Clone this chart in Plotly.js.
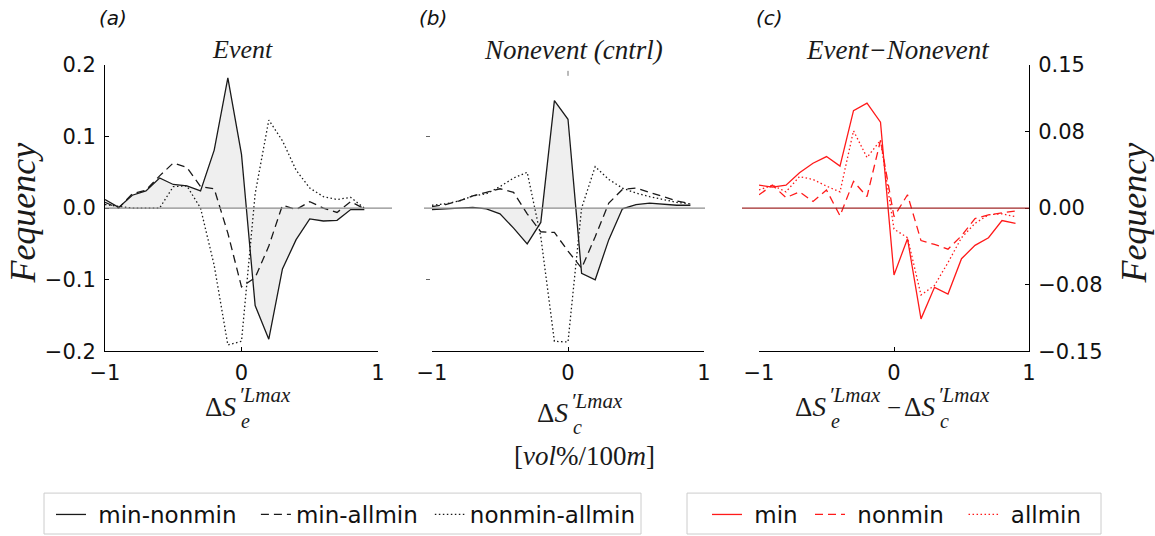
<!DOCTYPE html>
<html>
<head>
<meta charset="utf-8">
<script src="https://cdn.plot.ly/plotly-3.0.1.min.js"></script>
<style>html,body{margin:0;padding:0;background:#fff;}#chart{width:1155px;height:536px;}</style>
</head>
<body>
<div id="chart"></div>
<script>
// ---- data ----
const xBins = [-1.0, -0.9, -0.8, -0.7, -0.6, -0.5, -0.4, -0.3, -0.2, -0.1, 0.0, 0.1, 0.2, 0.3, 0.4, 0.5, 0.6, 0.7, 0.8, 0.9];

// (a) Event
const aMinNonmin    = [0.012, 0.001, 0.018, 0.024, 0.042, 0.033, 0.031, 0.024, 0.081, 0.182, 0.075, -0.136, -0.183, -0.085, -0.044, -0.015, -0.018, -0.017, -0.002, -0.002];
const aMinAllmin    = [0.008, 0.000, 0.020, 0.025, 0.045, 0.063, 0.057, 0.030, 0.027, -0.035, -0.110, -0.097, -0.053, 0.004, -0.002, 0.009, 0.000, -0.006, 0.009, -0.001];
const aNonminAllmin = [0.005, 0.002, 0.000, 0.000, 0.000, 0.030, 0.031, 0.000, -0.080, -0.191, -0.186, 0.020, 0.123, 0.094, 0.053, 0.028, 0.016, 0.012, 0.015, 0.000];

// (b) Nonevent (cntrl)
const bMinNonmin    = [-0.002, -0.001, 0.001, 0.001, -0.001, -0.008, -0.028, -0.050, -0.020, 0.150, 0.124, -0.091, -0.100, -0.044, -0.001, 0.005, 0.007, 0.005, 0.004, 0.004];
const bMinAllmin    = [0.002, 0.005, 0.010, 0.017, 0.022, 0.027, 0.022, -0.008, -0.033, -0.034, -0.060, -0.084, -0.040, 0.007, 0.026, 0.028, 0.022, 0.016, 0.010, 0.006];
const bNonminAllmin = [0.004, 0.006, 0.010, 0.017, 0.020, 0.030, 0.042, 0.050, -0.040, -0.186, -0.187, 0.000, 0.058, 0.040, 0.028, 0.021, 0.016, 0.012, 0.008, 0.006];

// (c) Event - Nonevent
const cMin    = [0.024, 0.022, 0.024, 0.037, 0.047, 0.054, 0.044, 0.102, 0.110, 0.090, -0.070, -0.032, -0.116, -0.083, -0.090, -0.053, -0.039, -0.031, -0.013, -0.016];
const cNonmin = [0.014, 0.024, 0.011, 0.017, 0.007, 0.019, -0.008, 0.028, 0.012, 0.071, -0.009, 0.014, -0.034, -0.038, -0.043, -0.029, -0.011, -0.007, -0.005, -0.003];
const cAllmin = [0.019, 0.024, 0.017, 0.033, 0.030, 0.023, 0.017, 0.081, 0.053, 0.071, -0.022, -0.031, -0.091, -0.081, -0.057, -0.031, -0.016, -0.007, -0.006, -0.009];

const xTickVals = [-1, 0, 1];
const xTickText = ['\u22121', '0', '1'];
const yTickValsAB = [-0.2, -0.1, 0, 0.1, 0.2];
const yTickTextAB = ['\u22120.2', '\u22120.1', '0.0', '0.1', '0.2'];
const yTickValsC = [-0.15, -0.08, 0, 0.08, 0.15];
const yTickTextC = ['\u22120.15', '\u22120.08', '0.00', '0.08', '0.15'];

const legendA = ['min-nonmin', 'min-allmin', 'nonmin-allmin'];
const legendC = ['min', 'nonmin', 'allmin'];

// ---- layout helpers ----
const W = 1155, H = 536;
const px = v => v / W;
const py = v => 1 - v / H;
const SANS = 'DejaVu Sans';
const SERIF = 'Liberation Serif';
const yDom = [py(352), py(65)];
const NB = '\u00a0';

const blk = '#1a1a1a';
const red = '#ff1a1a';
const fillCol = '#efefef';
const DASH = '8px,5px';
const DOT = '1.5px,2.5px';

function lineTrace(y, xa, ya, dash, color, name, legend, show) {
  return {x: xBins, y: y, xaxis: xa, yaxis: ya, type: 'scatter', mode: 'lines',
    line: {color: color, width: 1.3, dash: dash}, name: name, legend: legend,
    showlegend: show, hoverinfo: 'skip'};
}
function fillTrace(y, xa, ya) {
  return {x: xBins, y: y, xaxis: xa, yaxis: ya, type: 'scatter', mode: 'lines',
    line: {width: 0, color: 'rgba(0,0,0,0)'}, fill: 'tozeroy', fillcolor: fillCol,
    showlegend: false, hoverinfo: 'skip'};
}

const traces = [
  fillTrace(aMinNonmin, 'x', 'y'),
  fillTrace(bMinNonmin, 'x2', 'y2'),
  lineTrace(aMinNonmin, 'x', 'y', 'solid', blk, NB + legendA[0] + NB, 'legend', true),
  lineTrace(aMinAllmin, 'x', 'y', DASH, blk, legendA[1], 'legend', true),
  lineTrace(aNonminAllmin, 'x', 'y', DOT, blk, legendA[2], 'legend', true),
  lineTrace(bMinNonmin, 'x2', 'y2', 'solid', blk, legendA[0], 'legend', false),
  lineTrace(bMinAllmin, 'x2', 'y2', DASH, blk, legendA[1], 'legend', false),
  lineTrace(bNonminAllmin, 'x2', 'y2', DOT, blk, legendA[2], 'legend', false),
  lineTrace(cMin, 'x3', 'y3', 'solid', red, NB + legendC[0] + NB, 'legend2', true),
  lineTrace(cNonmin, 'x3', 'y3', DASH, red, NB + legendC[1] + NB + NB, 'legend2', true),
  lineTrace(cAllmin, 'x3', 'y3', DOT, red, NB + legendC[2], 'legend2', true)
];

const tickFont = {family: SANS, size: 21, color: '#111'};
function xAxis(d0, d1, anchor) {
  return {domain: [px(d0), px(d1)], range: [-1, 1], anchor: anchor,
    tickvals: xTickVals, ticktext: xTickText, ticks: 'inside', ticklen: 4, tickcolor: '#000',
    showline: true, linecolor: '#000', linewidth: 1, showgrid: false, zeroline: false,
    tickfont: tickFont, ticklabelstandoff: 2, fixedrange: true};
}

const legendFont = {family: SANS, size: 23, color: '#111'};
const layout = {
  width: W, height: H, autosize: false,
  margin: {l: 0, r: 0, t: 0, b: 0, pad: 0},
  paper_bgcolor: '#fff', plot_bgcolor: 'rgba(0,0,0,0)',
  xaxis: xAxis(105, 378, 'y'),
  xaxis2: xAxis(432, 704, 'y2'),
  xaxis3: xAxis(759, 1029, 'y3'),
  yaxis: {domain: yDom, range: [-0.2, 0.2], anchor: 'x',
    tickvals: yTickValsAB, ticktext: yTickTextAB, ticks: 'inside', ticklen: 4, tickcolor: '#000',
    showline: true, linecolor: '#000', linewidth: 1, showgrid: false, zeroline: false,
    tickfont: tickFont, ticklabelstandoff: 4, fixedrange: true},
  yaxis2: {domain: yDom, range: [-0.2, 0.2], anchor: 'free', position: px(425),
    tickvals: [-0.1, 0.1], ticks: 'inside', ticklen: 4, tickcolor: '#666',
    showline: false, showgrid: false, zeroline: false, showticklabels: false, fixedrange: true},
  yaxis3: {domain: yDom, range: [-0.15, 0.15], anchor: 'x3', side: 'right',
    tickvals: yTickValsC, ticktext: yTickTextC, ticks: 'inside', ticklen: 4, tickcolor: '#000',
    showline: true, linecolor: '#000', linewidth: 1, showgrid: false, zeroline: false,
    tickfont: tickFont, ticklabelstandoff: 4, fixedrange: true},
  shapes: [
    {type: 'line', xref: 'paper', yref: 'y', x0: px(105), x1: px(392), y0: 0, y1: 0, line: {color: '#8c8c8c', width: 1.2}},
    {type: 'line', xref: 'paper', yref: 'y2', x0: px(424), x1: px(705), y0: 0, y1: 0, line: {color: '#8c8c8c', width: 1.2}},
    {type: 'line', xref: 'paper', yref: 'y3', x0: px(742), x1: px(1029), y0: 0, y1: 0, line: {color: '#a02828', width: 1.2}},
    {type: 'line', xref: 'x2', yref: 'paper', x0: 0, x1: 0, y0: py(71), y1: py(76), line: {color: '#777', width: 1}},
    // legend frames
    {type: 'rect', xref: 'paper', yref: 'paper', x0: px(44), x1: px(641), y0: py(535), y1: py(494), line: {color: '#cccccc', width: 1}},
    {type: 'rect', xref: 'paper', yref: 'paper', x0: px(687), x1: px(1101), y0: py(535), y1: py(494), line: {color: '#cccccc', width: 1}}
  ],
  legend: {orientation: 'h', x: px(44), y: py(494), xanchor: 'left', yanchor: 'top',
    borderwidth: 0, bgcolor: 'rgba(0,0,0,0)', indentation: 7, font: legendFont},
  legend2: {orientation: 'h', x: px(707), y: py(494), xanchor: 'left', yanchor: 'top',
    borderwidth: 0, bgcolor: 'rgba(0,0,0,0)', font: legendFont},
  annotations: []
};

function ann(text, x, y, opts) {
  const o = Object.assign({text: text, xref: 'paper', yref: 'paper', x: px(x), y: py(y),
    xanchor: 'center', yanchor: 'middle', showarrow: false,
    font: {family: SERIF, size: 26, color: '#1a1a1a'}}, opts || {});
  layout.annotations.push(o);
}

// panel letters
const letterFont = {family: SANS, size: 20, color: '#111'};
ann('<i>(a)</i>', 113, 18, {font: letterFont});
ann('<i>(b)</i>', 433, 18, {font: letterFont});
ann('<i>(c)</i>', 769, 18, {font: letterFont});
// panel titles
ann('<i>Event</i>', 243, 50);
ann('<i>Nonevent (cntrl)</i>', 573, 50, {font: {family: SERIF, size: 27, color: '#1a1a1a'}});
ann('<i>Event\u2212Nonevent</i>', 898, 50, {font: {family: SERIF, size: 27, color: '#1a1a1a'}});
// y titles
const yTitleFont = {family: SERIF, size: 36, color: '#1a1a1a'};
ann('<i>Fequency</i>', 23, 214, {textangle: -90, font: yTitleFont});
ann('<i>Fequency</i>', 1134, 214, {textangle: -90, font: yTitleFont});

// x titles (Delta S with stacked super/subscripts)
function dS(xRight, yMid, sub) {
  ann('\u0394<i>S</i>', xRight, yMid, {xanchor: 'right', font: {family: SERIF, size: 27, color: '#1a1a1a'}});
  ann('<i>\u2032Lmax</i>', xRight - 1, yMid - 12, {xanchor: 'left', font: {family: SERIF, size: 21, color: '#1a1a1a'}});
  ann('<i>' + sub + '</i>', xRight + 1, yMid + 14, {xanchor: 'left', font: {family: SERIF, size: 20, color: '#1a1a1a'}});
}
dS(238, 408, 'e');
dS(570, 414, 'c');
dS(828, 408, 'e');
ann('\u2212', 894, 408, {font: {family: SERIF, size: 25, color: '#1a1a1a'}});
dS(937, 408, 'c');
ann('[<i>vol</i>%/100<i>m</i>]', 584, 457, {font: {family: SERIF, size: 27, color: '#1a1a1a'}});

Plotly.newPlot('chart', traces, layout, {displayModeBar: false, staticPlot: true});
</script>
</body>
</html>
